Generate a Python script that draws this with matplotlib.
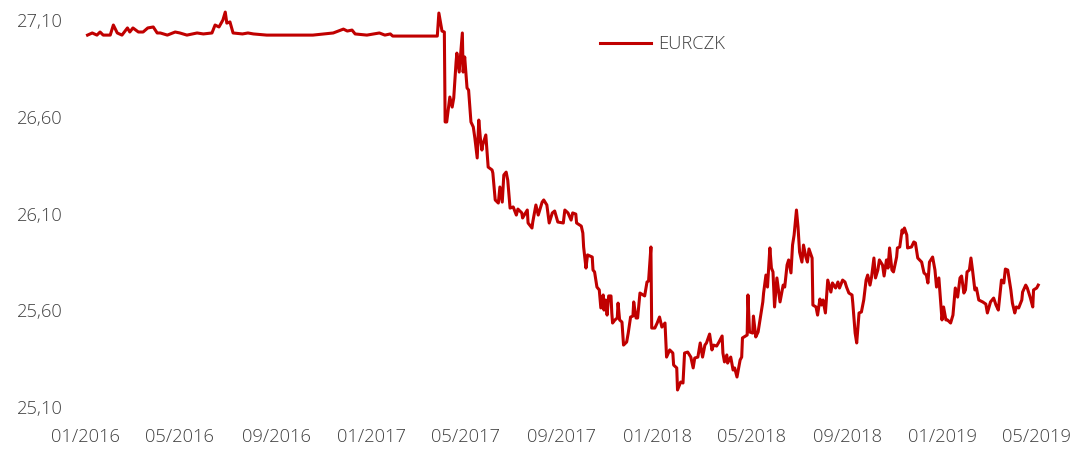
import matplotlib
matplotlib.use("Agg")
import matplotlib.pyplot as plt
import matplotlib.dates as mdates
from matplotlib.ticker import FuncFormatter
import pandas as pd

# days since 2016-01-01 and EURCZK fixing
days = [3, 9, 15, 19, 23, 32, 36, 41, 47, 54, 57, 61, 68, 74, 80, 87, 92, 96, 105, 115,
        121, 130, 143, 151, 162, 166, 171, 176, 179, 181, 185, 189, 201, 208, 215, 232, 266, 291, 317, 330,
        335, 341, 345, 360, 376, 383, 390, 393, 428, 450,
        452, 456, 459, 460, 462, 466, 469, 471, 474, 475, 478, 482, 483, 485, 488, 490, 493, 496, 498, 501,
        503, 505, 507, 508, 512, 515, 520, 521, 524, 528, 530, 533, 535, 538, 540, 543, 547, 551, 553, 558,
        559, 565, 566, 571, 572, 576, 579, 584, 586, 590, 593, 597, 600, 604,
        611, 613, 617, 621, 623, 627, 628, 634, 636, 637, 640, 642, 648, 649, 651, 654, 657, 659, 662, 663,
        665, 667, 669, 672, 673, 674, 677, 680, 681, 683, 686, 688, 692, 694, 697, 700, 701, 704, 706, 709,
        713, 715, 718, 720, 723, 724, 728, 731, 734, 737, 741, 743, 747, 751, 752, 756, 757,
        761, 764, 766, 770, 774, 777, 779, 783, 786, 789, 792, 794, 798, 801, 803, 807, 810, 814, 815, 817,
        820, 821, 825, 828, 830, 833, 837, 839, 840, 846, 847, 849, 853, 854, 857, 860, 863, 866, 867, 870,
        872, 875, 877, 879, 881, 884, 888, 892, 894, 897, 899, 902, 904, 906, 909, 911, 913, 916, 918, 921,
        923, 925, 929, 930, 934, 936, 939, 941, 943, 946, 949, 953, 955, 959, 962, 964, 968, 971, 973, 976,
        980, 981, 984, 986, 989, 992, 995, 998, 1000, 1003, 1005, 1008, 1010, 1013, 1015, 1019, 1021, 1024, 1026, 1028,
        1031, 1033, 1037, 1038, 1041, 1044, 1045, 1047, 1050, 1051, 1056, 1059, 1061, 1064, 1069, 1072, 1075, 1077, 1079, 1083,
        1086, 1088, 1091, 1095, 1097, 1100, 1102, 1106, 1109, 1112, 1115, 1118, 1120, 1123, 1125, 1127, 1130, 1132, 1134, 1137,
        1139, 1142, 1147, 1151, 1153, 1157, 1161, 1164, 1167, 1171, 1174, 1176, 1179, 1183, 1185, 1188, 1190, 1193, 1197, 1198,
        1202, 1204, 1208, 1211, 1212, 1216, 1218]

eurczk = [27.022, 27.033, 27.022, 27.038, 27.022, 27.022, 27.074, 27.033, 27.022, 27.059, 27.038, 27.059, 27.038, 27.038, 27.059, 27.064, 27.033, 27.033, 27.022, 27.038,
          27.033, 27.022, 27.033, 27.028, 27.033, 27.074, 27.064, 27.100, 27.141, 27.084, 27.090, 27.033, 27.028, 27.033, 27.028, 27.022, 27.022, 27.022, 27.033, 27.053,
          27.043, 27.048, 27.028, 27.022, 27.033, 27.022, 27.028, 27.017, 27.017, 27.017,
          27.136, 27.043, 27.038, 26.573, 26.573, 26.702, 26.650, 26.697, 26.883, 26.929, 26.831, 27.033, 26.831, 26.909, 26.749, 26.738, 26.573, 26.547, 26.490, 26.387,
          26.583, 26.490, 26.428, 26.454, 26.506, 26.340, 26.325, 26.309, 26.170, 26.154, 26.237, 26.159, 26.299, 26.314, 26.273, 26.128, 26.134, 26.092, 26.123, 26.103,
          26.077, 26.118, 26.051, 26.025, 26.056, 26.144, 26.092, 26.159, 26.170, 26.144, 26.051, 26.103, 26.113, 26.056,
          26.051, 26.118, 26.103, 26.066, 26.103, 26.097, 26.051, 26.035, 25.999, 25.927, 25.818, 25.886, 25.875, 25.808, 25.798, 25.720, 25.705, 25.612, 25.679, 25.601,
          25.653, 25.575, 25.674, 25.674, 25.586, 25.534, 25.550, 25.560, 25.637, 25.550, 25.539, 25.420, 25.436, 25.482, 25.565, 25.570, 25.643, 25.560, 25.560, 25.689,
          25.679, 25.674, 25.746, 25.751, 25.927, 25.508, 25.508, 25.534, 25.565, 25.513, 25.534, 25.358, 25.395, 25.379, 25.317, 25.302, 25.188,
          25.229, 25.224, 25.379, 25.384, 25.358, 25.302, 25.353, 25.358, 25.431, 25.358, 25.420, 25.431, 25.477, 25.395, 25.420, 25.415, 25.436, 25.467, 25.379, 25.333,
          25.369, 25.327, 25.358, 25.291, 25.302, 25.255, 25.343, 25.358, 25.457, 25.472, 25.679, 25.488, 25.482, 25.570, 25.462, 25.488, 25.565, 25.643, 25.689, 25.782,
          25.720, 25.922, 25.818, 25.798, 25.617, 25.767, 25.643, 25.730, 25.720, 25.834, 25.860, 25.793, 25.937, 25.989, 26.118, 26.030, 25.901, 25.849, 25.937, 25.875,
          25.849, 25.917, 25.870, 25.627, 25.617, 25.575, 25.658, 25.627, 25.653, 25.586, 25.756, 25.694, 25.741, 25.715, 25.746, 25.715, 25.756, 25.746, 25.720, 25.689,
          25.679, 25.637, 25.482, 25.431, 25.586, 25.591, 25.653, 25.756, 25.782, 25.730, 25.772, 25.870, 25.767, 25.808, 25.860, 25.834, 25.777, 25.860, 25.818, 25.922,
          25.808, 25.798, 25.875, 25.922, 25.927, 26.015, 25.999, 26.025, 25.989, 25.922, 25.927, 25.953, 25.948, 25.870, 25.849, 25.793, 25.782, 25.741, 25.849, 25.875,
          25.808, 25.720, 25.767, 25.550, 25.617, 25.550, 25.550, 25.534, 25.575, 25.715, 25.668, 25.767, 25.777, 25.689, 25.705, 25.798, 25.808, 25.870, 25.808, 25.705,
          25.715, 25.653, 25.643, 25.632, 25.586, 25.643, 25.663, 25.627, 25.601, 25.756, 25.741, 25.813, 25.808, 25.705, 25.637, 25.586, 25.617, 25.612, 25.653, 25.694,
          25.730, 25.715, 25.663, 25.617, 25.705, 25.715, 25.730]

yticks = [25.10, 25.60, 26.10, 26.60, 27.10]
series_name = "EURCZK"

dates = pd.Timestamp("2016-01-01") + pd.to_timedelta(days, unit="D")

plt.rcParams['font.family'] = ['Open Sans', 'DejaVu Sans']
txt = '#404040'
red = '#C00000'

fig = plt.figure(figsize=(10.81, 4.59), dpi=100)
ax = fig.add_axes([0.0694, 0.0922, 0.9019, 0.8895])
ax.plot(dates, eurczk, color=red, lw=2.2, label=series_name, clip_on=False)

ax.set_ylim(25.05, 27.16)
ax.set_xlim(pd.Timestamp("2015-12-19"), pd.Timestamp("2019-05-18"))
ax.set_yticks(yticks)
ax.yaxis.set_major_formatter(FuncFormatter(lambda v, p: f"{v:.2f}".replace('.', ',')))
ax.xaxis.set_major_locator(mdates.MonthLocator(bymonth=[1, 5, 9]))
ax.xaxis.set_major_formatter(mdates.DateFormatter('%m/%Y'))

for s in ax.spines.values():
    s.set_visible(False)
ax.tick_params(axis='both', length=0, labelsize=13.2, labelcolor=txt)
ax.tick_params(axis='y', pad=9)
ax.tick_params(axis='x', pad=8)
for lab in ax.get_xticklabels() + ax.get_yticklabels():
    lab.set_fontweight('light')

leg = fig.legend(loc='center left', bbox_to_anchor=(0.555, 0.904), frameon=False,
                 fontsize=13.2, handlelength=2.8, handletextpad=0.4, borderpad=0, borderaxespad=0)
for t in leg.get_texts():
    t.set_color(txt)
    t.set_fontweight('light')

fig.savefig("out.png", dpi=100)
